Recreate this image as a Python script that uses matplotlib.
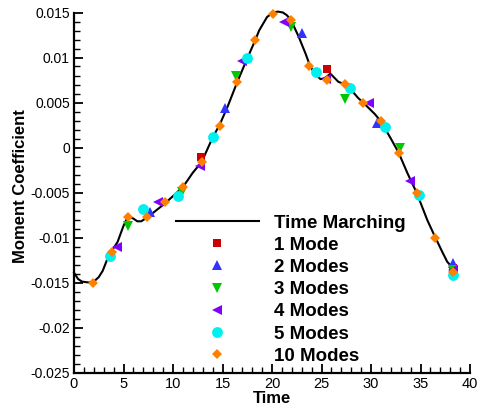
import matplotlib
matplotlib.use("Agg")
import matplotlib.pyplot as plt
from matplotlib.ticker import MultipleLocator, FixedLocator, FixedFormatter

plt.rcParams['font.family'] = ['Liberation Sans', 'DejaVu Sans']
plt.rcParams['axes.unicode_minus'] = False

# Time marching curve
tm_t = [0.0, 0.4, 0.8, 1.5, 2.0, 2.5, 2.9, 3.4, 3.8, 4.4, 5.0, 5.3, 5.6, 6.0, 6.4, 6.8,
        7.2, 7.6, 8.4, 9.2, 10.0, 11.0, 12.0, 12.9, 14.0, 14.7, 15.5, 16.5, 17.5, 18.3,
        18.7, 19.5, 20.1, 20.6, 21.1, 21.5, 21.9, 22.7, 23.4, 23.8, 24.3, 24.9, 25.3,
        25.9, 26.7, 27.4, 28.0, 28.7, 29.2, 30.4, 31.0, 32.0, 32.8, 33.7, 34.6, 35.7,
        36.5, 37.2, 37.7, 38.2]
tm_y = [-0.0139, -0.0146, -0.0149, -0.0150, -0.0149, -0.0144, -0.0137, -0.0123, -0.0115,
        -0.0105, -0.0087, -0.0080, -0.0077, -0.0079, -0.0082, -0.0082, -0.0079, -0.0076,
        -0.0069, -0.0062, -0.0054, -0.0044, -0.0028, -0.0016, 0.0011, 0.0025, 0.0045,
        0.0073, 0.0099, 0.0119, 0.0130, 0.0145, 0.0150, 0.0151, 0.0150, 0.0147, 0.0142,
        0.0123, 0.0104, 0.0092, 0.0082, 0.0076, 0.0077, 0.0082, 0.0073, 0.0070, 0.0064,
        0.0055, 0.0050, 0.0037, 0.0029, 0.0010, -0.0006, -0.0029, -0.0050, -0.0081,
        -0.0100, -0.0116, -0.0127, -0.0133]

# Harmonic balance results
m1_t = [12.8, 25.6, 38.3]
m1_y = [-0.0010, 0.0087, -0.0134]

m2_t = [7.7, 15.3, 23.0, 30.6, 38.3]
m2_y = [-0.0072, 0.0044, 0.0127, 0.0027, -0.0128]

m3_t = [5.5, 10.9, 16.4, 21.9, 27.4, 32.9, 38.3]
m3_y = [-0.0087, -0.0049, 0.0079, 0.0134, 0.0054, 0.0000, -0.0136]

m4_t = [4.3, 8.5, 12.7, 17.0, 21.2, 25.5, 29.8, 33.9, 38.3]
m4_y = [-0.0110, -0.0060, -0.0020, 0.0096, 0.0140, 0.0076, 0.0050, -0.0037, -0.0136]

m5_t = [3.6, 7.0, 10.5, 14.0, 17.5, 24.4, 27.9, 31.4, 34.8, 38.3]
m5_y = [-0.0120, -0.0068, -0.0054, 0.0012, 0.0100, 0.0084, 0.0066, 0.0023, -0.0053, -0.0142]

m10_t = [1.9, 3.8, 5.5, 7.4, 9.2, 11.0, 12.9, 14.7, 16.5, 18.3, 20.1, 21.9, 23.7, 25.6,
         27.4, 29.2, 31.0, 32.8, 34.6, 36.5, 38.3]
m10_y = [-0.0150, -0.0116, -0.0077, -0.0077, -0.0061, -0.0044, -0.0016, 0.0024, 0.0073,
         0.0119, 0.0148, 0.0142, 0.0091, 0.0075, 0.0071, 0.0050, 0.0029, -0.0006, -0.0050,
         -0.0100, -0.0138]

labels = ["Time Marching", "1 Mode", "2 Modes", "3 Modes", "4 Modes", "5 Modes", "10 Modes"]
yticks = [0.015, 0.01, 0.005, 0, -0.005, -0.01, -0.015, -0.02, -0.025]
ytick_labels = ["0.015", "0.01", "0.005", "0", "-0.005", "-0.01", "-0.015", "-0.02", "-0.025"]
xticks = [0, 5, 10, 15, 20, 25, 30, 35, 40]
xtick_labels = ["0", "5", "10", "15", "20", "25", "30", "35", "40"]

fig = plt.figure(figsize=(4.79, 4.09), dpi=100)
ax = fig.add_axes([74/479, 36.5/409, 396/479, 360/409])

ax.plot(tm_t, tm_y, color='black', lw=1.5, label=labels[0], zorder=2, clip_on=False)
ax.plot(m1_t, m1_y, ls='none', marker='s', ms=6, color='#CC0000', mew=0, label=labels[1], zorder=3, clip_on=False)
ax.plot(m2_t, m2_y, ls='none', marker='^', ms=6.5, color='#3333FF', mew=0, label=labels[2], zorder=3, clip_on=False)
ax.plot(m3_t, m3_y, ls='none', marker='v', ms=6.5, color='#00C800', mew=0, label=labels[3], zorder=3, clip_on=False)
ax.plot(m4_t, m4_y, ls='none', marker='<', ms=6.5, color='#8000FF', mew=0, label=labels[4], zorder=3, clip_on=False)
ax.plot(m5_t, m5_y, ls='none', marker='o', ms=7.8, color='#00F0F0', mew=0, label=labels[5], zorder=3, clip_on=False)
ax.plot(m10_t, m10_y, ls='none', marker='D', ms=5.6, color='#FF8000', mew=0, label=labels[6], zorder=3, clip_on=False)

ax.set_xlim(0, 40)
ax.set_ylim(-0.025, 0.015)
ax.xaxis.set_major_locator(FixedLocator(xticks))
ax.xaxis.set_major_formatter(FixedFormatter(xtick_labels))
ax.yaxis.set_major_locator(FixedLocator(yticks))
ax.yaxis.set_major_formatter(FixedFormatter(ytick_labels))
ax.xaxis.set_minor_locator(MultipleLocator(1))
ax.yaxis.set_minor_locator(MultipleLocator(0.001))

for s in ['top', 'right']:
    ax.spines[s].set_visible(False)
for s in ['left', 'bottom']:
    ax.spines[s].set_linewidth(1.6)
ax.tick_params(which='major', direction='in', length=6.5, width=1.3, labelsize=10, pad=3)
ax.tick_params(axis='x', which='major', labelsize=10.5)
ax.tick_params(which='minor', direction='in', length=4, width=1.0)

ax.set_xlabel("Time", fontsize=12, fontweight='bold', labelpad=0)
ax.set_ylabel("Moment Coefficient", fontsize=12, fontweight='bold', va='center')
ax.yaxis.set_label_coords(-0.136, 0.517)

leg = ax.legend(loc='upper left', bbox_to_anchor=(0.2576, 0.439), frameon=False,
                prop={'weight': 'bold', 'size': 13.5}, handlelength=4.4, handletextpad=0.8,
                labelspacing=0.27, borderpad=0, borderaxespad=0, numpoints=1)

fig.savefig("out.png", dpi=100)
